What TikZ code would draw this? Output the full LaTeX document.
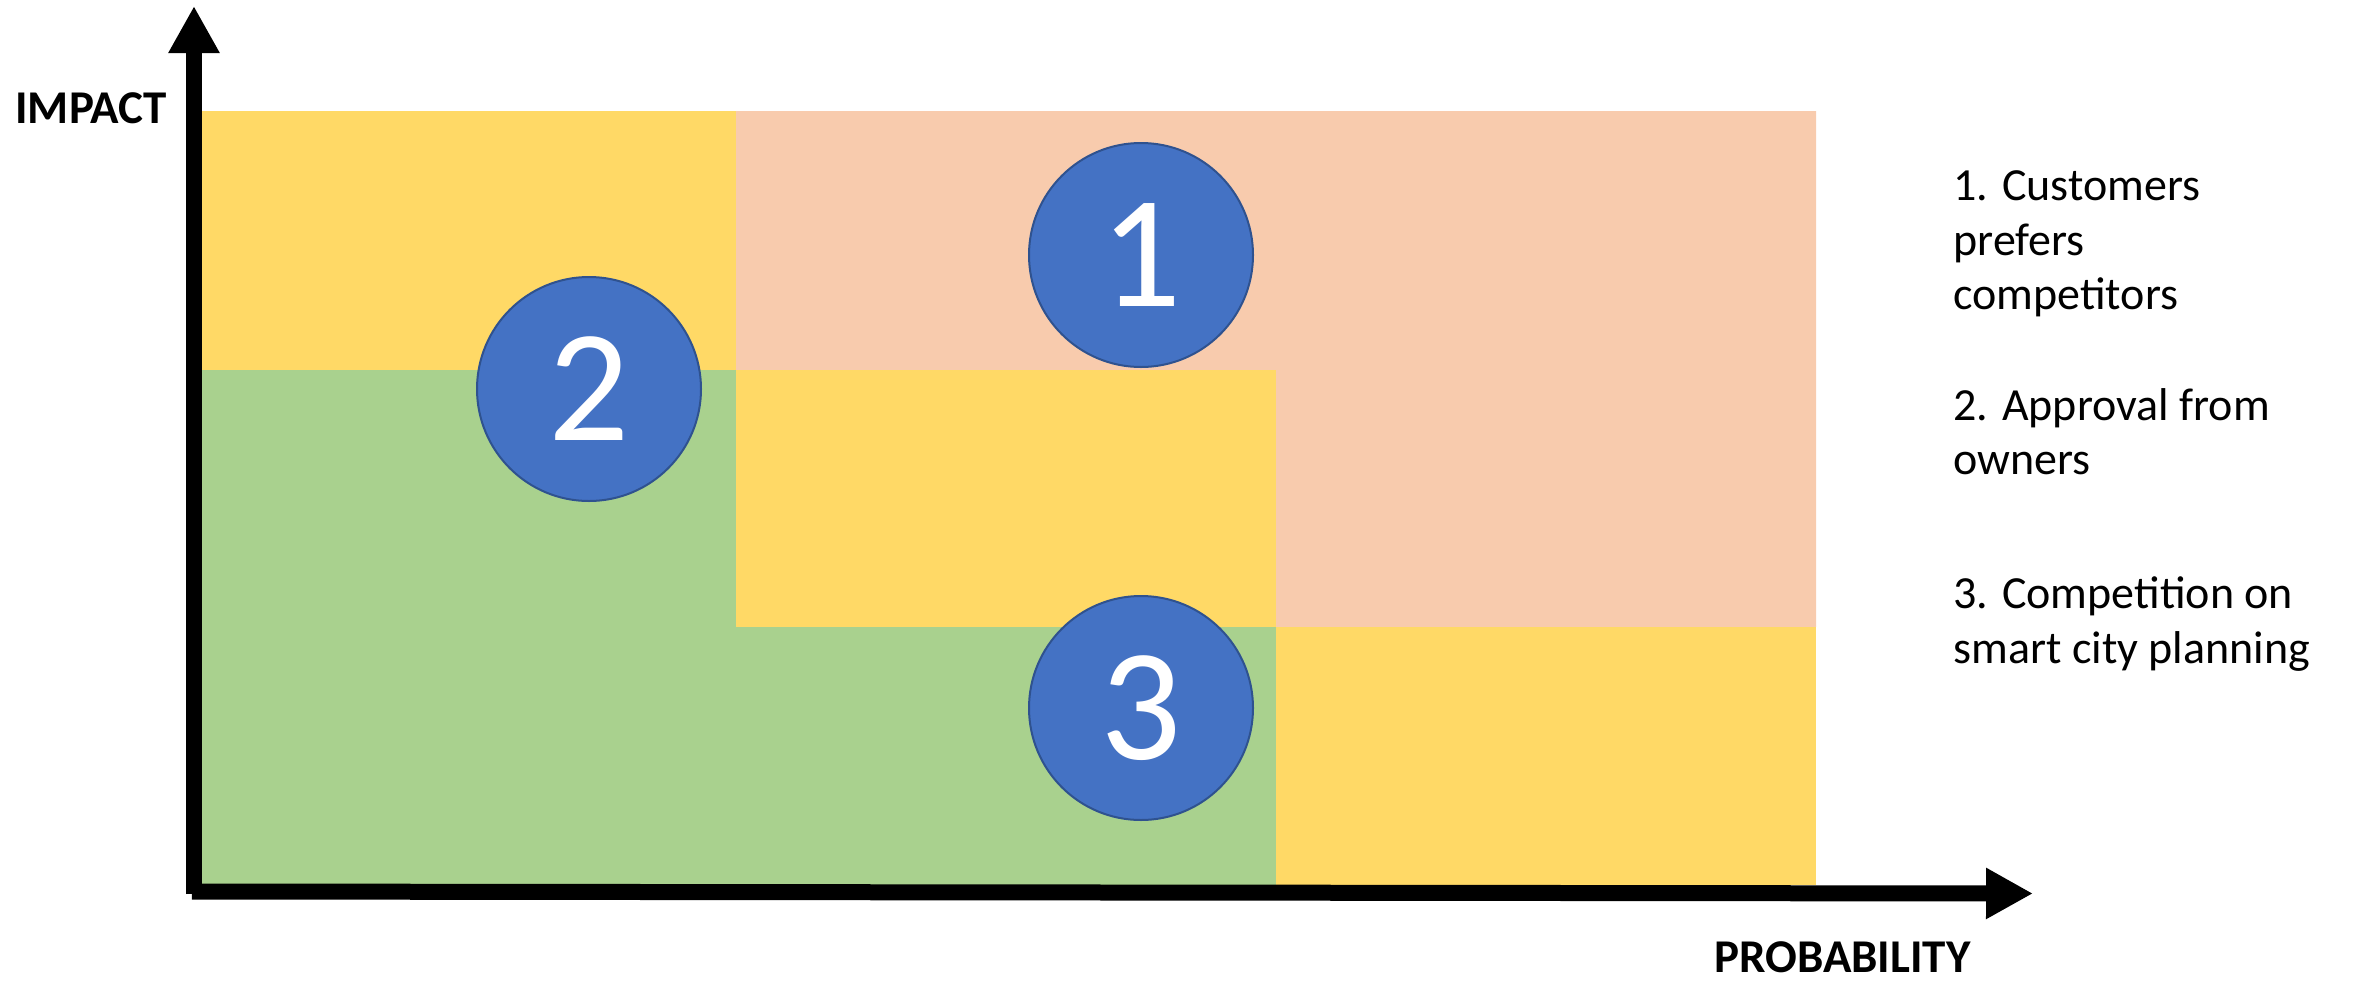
\documentclass[tikz,border=0pt]{standalone}
\usepackage{fontspec}
\setmainfont{Carlito}
\usetikzlibrary{arrows.meta}
\definecolor{zoneyellow}{HTML}{FFD966}
\definecolor{zonepeach}{HTML}{F8CBAD}
\definecolor{zonegreen}{HTML}{A9D18E}
\definecolor{riskblue}{HTML}{4472C4}
\definecolor{riskedge}{HTML}{2F528F}

\begin{document}
\begin{tikzpicture}[x=0.5pt,y=-0.5pt,
  axis/.style={line width=8pt,-{Triangle[width=24pt,length=23.5pt]}},
  risk/.style={circle,fill=riskblue,draw=riskedge,line width=1pt,
    minimum size=112pt,inner sep=0pt,text=white,
    font=\fontsize{80}{80}\selectfont},
  legend/.style={anchor=base west,inner sep=0pt,
    font=\fontsize{23}{27}\selectfont},
  axislabel/.style={anchor=base west,inner sep=0pt,
    font=\fontsize{23.5}{27}\selectfont\bfseries}]

\useasboundingbox (0,0) rectangle (2356,980);

% risk zones (coordinates in pixels, y downwards)
\fill[zonegreen] (202,370) -- (736,370) -- (736,627) -- (1276,627)
  -- (1276,885) -- (202,885) -- cycle;
\fill[zonepeach] (736,111) -- (1816,111) -- (1816,627) -- (1276,627)
  -- (1276,370) -- (736,370) -- cycle;
\fill[zoneyellow] (202,111) rectangle (736,370);
\fill[zoneyellow] (736,370) rectangle (1276,627);
\fill[zoneyellow] (1276,627) rectangle (1816,885);

% axes
\coordinate (ybase) at (194,894);
\coordinate (ytip)  at (194,6);
\coordinate (xbase) at (192,891.5);
\coordinate (xtip)  at (2033,893.5);
\draw[axis] (ybase) -- (ytip);
\draw[axis] (xbase) -- (xtip);

\node[axislabel] (impact) at (15,123) {IMPACT};
\node[axislabel] (prob) at (1714,972) {PROBABILITY};

% risks
\node[risk] (r1) at (1141,255) {1};
\node[risk] (r2) at (589,389) {2};
\node[risk] (r3) at (1141,708) {3};

% legend
\node[legend] (l1a) at (1953,200) {1. Customers};
\node[legend] (l1b) at (1953,255) {prefers};
\node[legend] (l1c) at (1953,309) {competitors};
\node[legend] (l2a) at (1953,420) {2. Approval from};
\node[legend] (l2b) at (1953,474) {owners};
\node[legend] (l3a) at (1953,608) {3. Competition on};
\node[legend] (l3b) at (1953,663) {smart city planning};
\end{tikzpicture}
\end{document}
